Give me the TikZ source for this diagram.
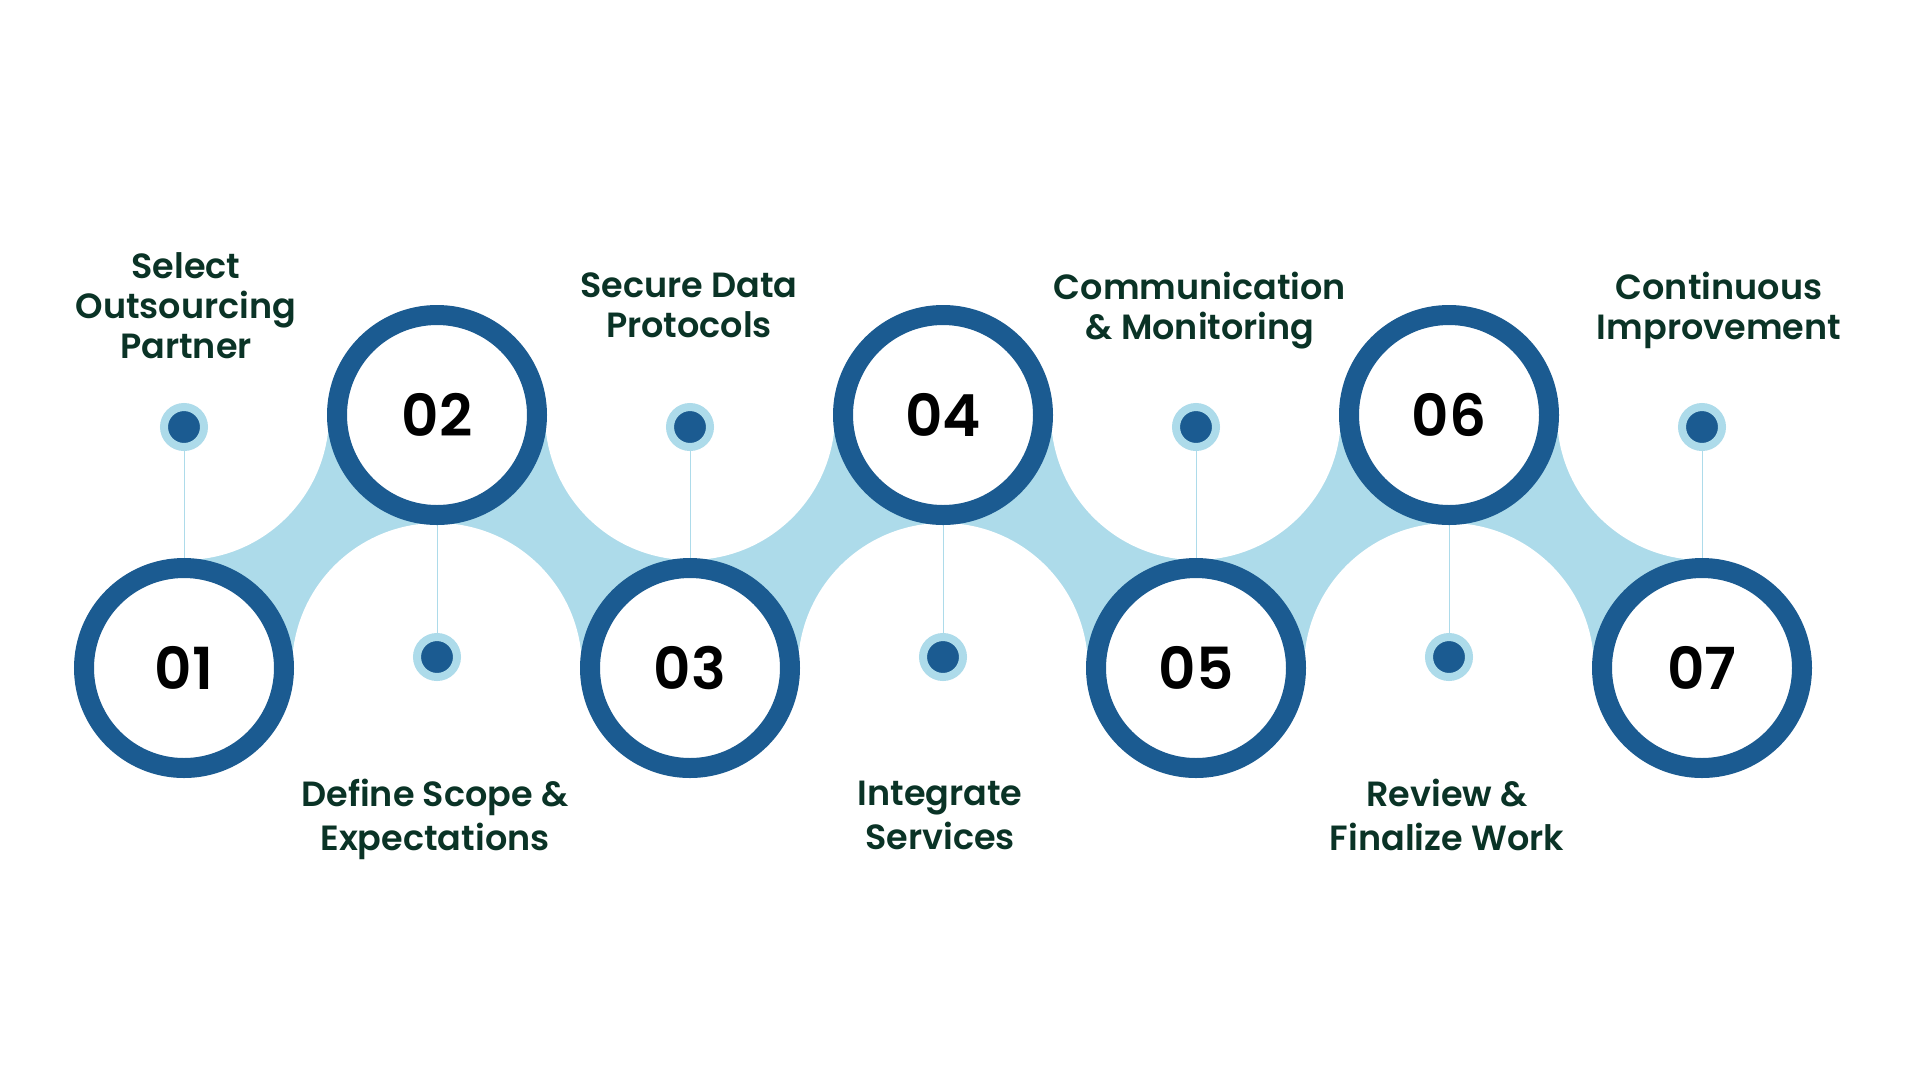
\documentclass[tikz,border=0pt]{standalone}
\usepackage{fontspec}
\setmainfont{Poppins}[UprightFont={* SemiBold},BoldFont={* Bold}]
\usetikzlibrary{backgrounds}
\definecolor{ringblue}{HTML}{1B5B91}
\definecolor{bandblue}{HTML}{ADDBEA}
\definecolor{txtgreen}{HTML}{0A3326}
\begin{document}
\begin{tikzpicture}[x=1pt,y=-1pt,
  stepring/.style={circle, draw=ringblue, line width=20pt, fill=white,
    minimum size=200pt, inner sep=0pt, text=black,
    font=\fontsize{58}{58}\selectfont},
  stepdot/.style={circle, draw=bandblue, line width=8pt, fill=ringblue,
    minimum size=40pt, inner sep=0pt},
  toplabel/.style={align=center, text=txtgreen, inner sep=0pt,
    font=\fontsize{35}{40}\selectfont},
  botlabel/.style={align=center, text=txtgreen, inner sep=0pt,
    font=\fontsize{35}{44}\selectfont},
  leader/.style={draw=bandblue, line width=1pt},
  cutout/.style={fill=white}
]
\useasboundingbox (0,0) rectangle (1920,1080);

% numbered circles
\node[stepring] (c1) at (184,668) {01};
\node[stepring] (c2) at (437,415) {02};
\node[stepring] (c3) at (690,668) {03};
\node[stepring] (c4) at (943,415) {04};
\node[stepring] (c5) at (1196,668) {05};
\node[stepring] (c6) at (1449,415) {06};
\node[stepring] (c7) at (1702,668) {07};

% dots
\node[stepdot] (d1) at (184,427) {};
\node[stepdot] (d2) at (437,657) {};
\node[stepdot] (d3) at (690,427) {};
\node[stepdot] (d4) at (943,657) {};
\node[stepdot] (d5) at (1196,427) {};
\node[stepdot] (d6) at (1449,657) {};
\node[stepdot] (d7) at (1702,427) {};

\begin{scope}[on background layer]
  \fill[white] (0,0) rectangle (1920,1080);
  \fill[bandblue] (184,415) rectangle (1702,668);
  \foreach \cx in {184,690,1196,1702} \fill[cutout] (\cx,415) circle[radius=145pt];
  \foreach \cx in {437,943,1449} \fill[cutout] (\cx,668) circle[radius=145pt];
  \draw[leader] (d1) -- (c1);
  \draw[leader] (c2) -- (d2);
  \draw[leader] (d3) -- (c3);
  \draw[leader] (c4) -- (d4);
  \draw[leader] (d5) -- (c5);
  \draw[leader] (c6) -- (d6);
  \draw[leader] (d7) -- (c7);
\end{scope}

% labels
\node[toplabel] (t1) at (186,306) {Select\\Outsourcing\\Partner};
\node[toplabel] (t3) at (689,305) {Secure Data\\Protocols};
\node[toplabel] (t5) at (1200,311) {Communication\\\& Monitoring};
\node[toplabel] (t7) at (1719,310) {Continuous\\Improvement};
\node[botlabel] (t2) at (435,819) {Define Scope \&\\Expectations};
\node[botlabel] (t4) at (940,815) {Integrate\\Services};
\node[botlabel] (t6) at (1447,815) {Review \&\\Finalize Work};
\end{tikzpicture}
\end{document}
